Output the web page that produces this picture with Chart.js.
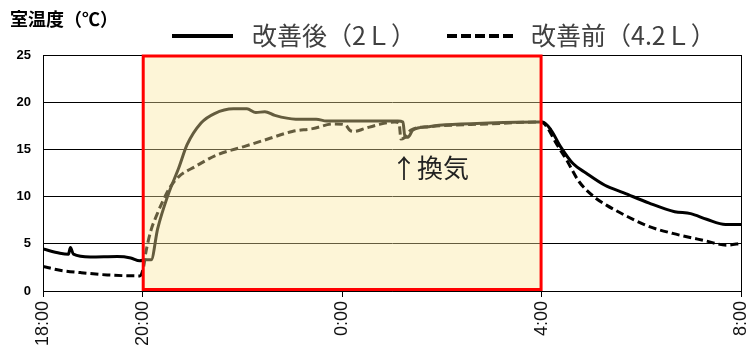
<!DOCTYPE html>
<html>
<head>
<meta charset="utf-8">
<script src="https://cdn.jsdelivr.net/npm/chart.js@4"></script>
<style>
  html, body { margin: 0; padding: 0; background: #fff; }
</style>
</head>
<body>
<canvas id="tempChart" width="747" height="353"></canvas>
<script>
// x values are hours counted from 18:00
const afterTimes = [0, 0.34, 0.51, 0.55, 0.61, 0.95, 1.49, 1.76, 1.94,
  2.06, 2.17, 2.30, 2.51, 2.72, 2.89, 3.17, 3.44, 3.82, 4.09,
  4.27, 4.45, 4.65, 5.07, 5.48, 5.69, 6.30, 7.12, 7.22, 7.26,
  7.32, 7.42, 7.73, 8.07, 8.94, 9.96, 10.02, 10.19, 10.38, 10.63,
  10.89, 11.27, 11.65, 12.16, 12.67, 12.99, 13.31, 13.69, 14.0];
const afterTemps = [4.45, 4.0, 3.9, 4.6, 3.9, 3.6, 3.65, 3.5, 3.2,
  3.3, 3.3, 6.6, 10.2, 13.0, 15.5, 17.8, 18.8, 19.3, 19.3,
  18.9, 19.0, 18.6, 18.2, 18.2, 18.0, 18.0, 18.0, 17.9, 16.3,
  16.3, 17.05, 17.4, 17.6, 17.8, 17.9, 17.9, 17.05, 15.3, 13.5,
  12.5, 11.2, 10.4, 9.3, 8.4, 8.2, 7.6, 7.05, 7.05];

const beforeTimes = [0, 0.34, 0.75, 1.29, 1.94,
  2.02, 2.06, 2.17, 2.27, 2.41, 2.55, 2.72, 3.06, 3.48, 4.03,
  4.51, 5.0, 5.41, 5.83, 6.06, 6.16, 6.24, 6.45, 6.71, 7.06,
  7.14, 7.18, 7.24, 7.38, 7.73, 8.94, 9.96, 10.06, 10.31, 10.50,
  10.75, 11.07, 11.30, 11.68, 12.12, 12.63, 13.26, 13.72, 14.0];
const beforeTemps = [2.6, 2.2, 1.95, 1.7, 1.6,
  2.6, 4.0, 6.5, 7.9, 9.6, 11.0, 12.1, 13.2, 14.4, 15.3,
  16.1, 16.9, 17.2, 17.7, 17.6, 17.0, 16.9, 17.2, 17.6, 17.9,
  17.8, 16.1, 16.2, 17.05, 17.4, 17.7, 17.9, 17.7, 15.5, 13.9,
  11.6, 9.9, 9.1, 8.0, 6.9, 6.1, 5.35, 4.85, 5.05];

const seriesNames = ['改善後（2Ｌ）', '改善前（4.2Ｌ）'];
const xTickHours = [0, 2, 6, 10, 14];
const xTickLabels = ['18:00', '20:00', '0:00', '4:00', '8:00'];
const heatingPeriod = [2, 10]; // 20:00 - 4:00
const ventTime = 7.28;
const ventLabelTemp = 13.0;
const yTitle = '室温度（℃）';

function toPoints(xs, ys) {
  return xs.map((x, i) => ({ x: x, y: ys[i] }));
}

const heatingBox = {
  id: 'heatingBox',
  afterDatasetsDraw(chart) {
    const { ctx, scales: { x, y } } = chart;
    const left = x.getPixelForValue(heatingPeriod[0]);
    const right = x.getPixelForValue(heatingPeriod[1]);
    const top = y.getPixelForValue(25);
    const bottom = y.getPixelForValue(0);
    ctx.save();
    ctx.fillStyle = 'rgba(250, 230, 155, 0.4)';
    ctx.fillRect(left, top, right - left, bottom - top);
    ctx.strokeStyle = '#ff0000';
    ctx.lineWidth = 3;
    ctx.strokeRect(left + 0.5, top + 1, right - left - 1, bottom - top - 2.5);

    ctx.fillStyle = '#222';
    ctx.font = '26px "Noto Sans CJK JP"';
    ctx.textBaseline = 'middle';
    ctx.textAlign = 'left';
    ctx.fillText('↑換気', x.getPixelForValue(ventTime) - 15, y.getPixelForValue(ventLabelTemp));
    ctx.restore();
  }
};

const header = {
  id: 'header',
  afterDraw(chart) {
    const ctx = chart.ctx;
    ctx.save();
    ctx.textBaseline = 'middle';
    ctx.textAlign = 'left';
    ctx.fillStyle = '#000';
    ctx.font = 'bold 18px "Noto Sans CJK JP"';
    ctx.fillText(yTitle, 10, 19);

    const items = [
      { x0: 172, x1: 233, tx: 252, dash: [] },
      { x0: 447, x1: 514, tx: 531, dash: [10, 4] }
    ];
    items.forEach((it, i) => {
      ctx.beginPath();
      ctx.setLineDash(it.dash);
      ctx.strokeStyle = '#000';
      ctx.lineWidth = 4;
      ctx.moveTo(it.x0, 36);
      ctx.lineTo(it.x1, 36);
      ctx.stroke();
      ctx.setLineDash([]);
      ctx.fillStyle = '#404040';
      ctx.font = '25px "Noto Sans CJK JP"';
      ctx.fillText(chart.data.datasets[i].label, it.tx, 35);
    });
    ctx.restore();
  }
};

new Chart(document.getElementById('tempChart'), {
  type: 'line',
  data: {
    datasets: [
      {
        label: seriesNames[0],
        data: toPoints(afterTimes, afterTemps),
        borderColor: '#000',
        borderWidth: 3,
        pointRadius: 0,
        cubicInterpolationMode: 'monotone'
      },
      {
        label: seriesNames[1],
        data: toPoints(beforeTimes, beforeTemps),
        borderColor: '#000',
        borderWidth: 3,
        borderDash: [8, 4],
        pointRadius: 0,
        cubicInterpolationMode: 'monotone'
      }
    ]
  },
  options: {
    responsive: false,
    animation: false,
    devicePixelRatio: 1,
    layout: { padding: { top: 55, right: 6, left: 0, bottom: 0 } },
    plugins: {
      legend: { display: false },
      tooltip: { enabled: false }
    },
    scales: {
      x: {
        type: 'linear',
        min: 0,
        max: 14,
        afterBuildTicks: axis => {
          axis.ticks = xTickHours.map(v => ({ value: v }));
        },
        afterFit: scale => {
          scale.height = 62;
          scale.paddingLeft = 0;
          scale.paddingRight = 0;
        },
        ticks: {
          autoSkip: false,
          maxRotation: 90,
          minRotation: 90,
          color: '#111',
          padding: 4,
          font: { family: 'Liberation Sans', size: 18 },
          callback: v => xTickLabels[xTickHours.indexOf(v)]
        },
        grid: {
          color: c => (c.tick && c.tick.value === 14 ? '#000' : 'rgba(0,0,0,0)'),
          tickColor: '#000',
          tickLength: 6,
          lineWidth: 1
        },
        border: { color: '#000', width: 1 }
      },
      y: {
        min: 0,
        max: 25,
        afterFit: scale => { scale.width = 43; },
        ticks: {
          stepSize: 5,
          color: '#000',
          padding: 12,
          font: { family: 'Liberation Sans', size: 13, weight: 'bold' }
        },
        grid: { color: '#000', lineWidth: 1, drawTicks: false },
        border: { color: '#000', width: 1 }
      }
    }
  },
  plugins: [heatingBox, header]
});
</script>
</body>
</html>
